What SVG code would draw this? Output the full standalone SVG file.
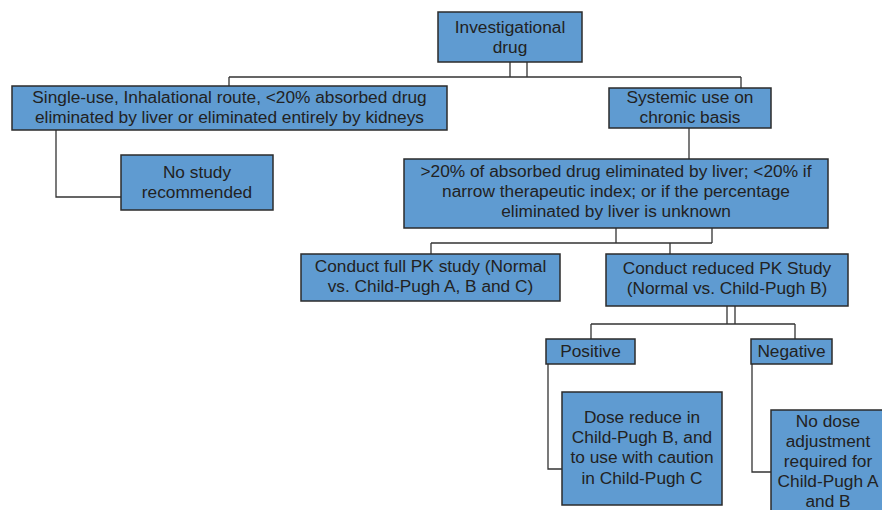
<svg xmlns="http://www.w3.org/2000/svg" width="882" height="510" viewBox="0 0 882 510">
<style>
.box{fill:#5f9bd1;stroke:#2b2b2b;stroke-width:1.5}
.t{font-family:"Liberation Sans",Arial,sans-serif;font-size:17.3px;fill:#222;text-anchor:middle}
.c{fill:none;stroke:#333;stroke-width:1.3}
</style>
<rect width="882" height="510" fill="#fff"/>
<g id="connectors">
<path class="c" d="M510 62V77M527 62V77M229 77H741M229 77V86M741 77V88"/>
<path class="c" d="M56 130V197H121"/>
<path class="c" d="M689 128V159"/>
<path class="c" d="M616 228V243M712 228V243M431 243H712M431 243V254M670 243V254"/>
<path class="c" d="M727 306V324M735 306V324M591 324H795M591 324V339M795 324V339"/>
<path class="c" d="M548 364V469H562"/>
<path class="c" d="M752 364V472H771"/>
</g>
<g id="investigational">
<rect class="box" x="438" y="12" width="144" height="50"/>
<text class="t" x="510" y="33">Investigational</text>
<text class="t" x="510" y="53">drug</text>
</g>
<g id="singleuse">
<rect class="box" x="12" y="86" width="435" height="44"/>
<text class="t" x="229.5" y="103">Single-use, Inhalational route, &lt;20% absorbed drug</text>
<text class="t" x="229.5" y="123">eliminated by liver or eliminated entirely by kidneys</text>
</g>
<g id="systemic">
<rect class="box" x="609" y="88" width="162" height="40"/>
<text class="t" x="690" y="103">Systemic use on</text>
<text class="t" x="690" y="123">chronic basis</text>
</g>
<g id="nostudy">
<rect class="box" x="121" y="155" width="152" height="55"/>
<text class="t" x="197" y="178">No study</text>
<text class="t" x="197" y="198">recommended</text>
</g>
<g id="gt20">
<rect class="box" x="404" y="159" width="424" height="69"/>
<text class="t" x="616" y="177">&gt;20% of absorbed drug eliminated by liver; &lt;20% if</text>
<text class="t" x="616" y="197">narrow therapeutic index; or if the percentage</text>
<text class="t" x="616" y="217">eliminated by liver is unknown</text>
</g>
<g id="fullpk">
<rect class="box" x="301" y="254" width="259" height="47"/>
<text class="t" x="430.5" y="272">Conduct full PK study (Normal</text>
<text class="t" x="430.5" y="292">vs. Child-Pugh A, B and C)</text>
</g>
<g id="reducedpk">
<rect class="box" x="606" y="254" width="242" height="52"/>
<text class="t" x="727" y="274">Conduct reduced PK Study</text>
<text class="t" x="727" y="294">(Normal vs. Child-Pugh B)</text>
</g>
<g id="positive">
<rect class="box" x="546" y="339" width="89" height="25"/>
<text class="t" x="590.5" y="357">Positive</text>
</g>
<g id="negative">
<rect class="box" x="751" y="339" width="81" height="25"/>
<text class="t" x="791.5" y="357">Negative</text>
</g>
<g id="dosereduce">
<rect class="box" x="562" y="392" width="160" height="113"/>
<text class="t" x="642" y="423">Dose reduce in</text>
<text class="t" x="642" y="443">Child-Pugh B, and</text>
<text class="t" x="642" y="463">to use with caution</text>
<text class="t" x="642" y="484">in Child-Pugh C</text>
</g>
<g id="nodose">
<rect class="box" x="771" y="410" width="114" height="110"/>
<text class="t" x="828" y="427">No dose</text>
<text class="t" x="828" y="447">adjustment</text>
<text class="t" x="828" y="467">required for</text>
<text class="t" x="828" y="487">Child-Pugh A</text>
<text class="t" x="828" y="507">and B</text>
</g>
</svg>
